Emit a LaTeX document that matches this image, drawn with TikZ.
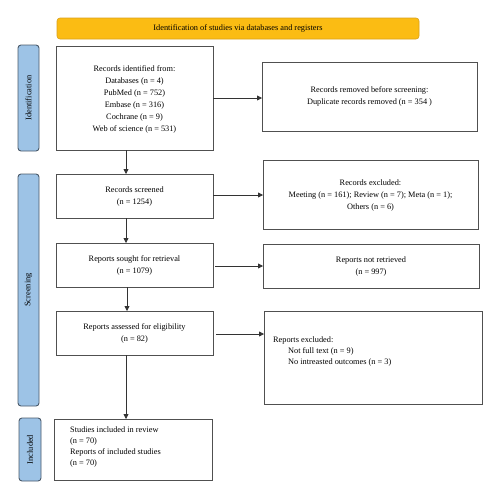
\documentclass[tikz,border=0pt]{standalone}
\usepackage{fontspec}
\setmainfont{Liberation Serif}
\usetikzlibrary{arrows.meta}
\definecolor{hdr}{HTML}{FBBC13}
\definecolor{hdrb}{HTML}{D9A01A}
\definecolor{side}{HTML}{9DC3E6}
\definecolor{sideb}{HTML}{4A5A6A}
\definecolor{boxb}{HTML}{505050}
\begin{document}
\begin{tikzpicture}[x=1pt,y=-1pt,
  box/.style={draw=boxb,line width=0.9pt,fill=white},
  sidebar/.style={draw=sideb,fill=side,line width=0.9pt,rounded corners=3pt},
  arr/.style={-{Triangle[length=5pt,width=5pt]},line width=0.8pt,draw=black!80},
  txt/.style={font=\fontsize{8.3}{12}\selectfont,align=center,inner sep=0pt},
  txtl/.style={font=\fontsize{8.3}{11}\selectfont,align=left,inner sep=0pt,anchor=north west},
  stxt/.style={font=\fontsize{8.4}{9}\selectfont,rotate=90,inner sep=0pt}]
\useasboundingbox (0,0) rectangle (500,499);
% header
\draw[fill=hdr,draw=hdrb,line width=0.6pt,rounded corners=3pt] (57,18) rectangle (419,39);
\node[txt] (hdr) at (238,28.5) {Identification of studies via databases and registers};
% sidebars
\draw[sidebar] (18,45) rectangle (39,151);
\node[stxt] (s1) at (28.5,98) {Identification};
\draw[sidebar] (18,174) rectangle (39,406);
\node[stxt] (s2) at (28.5,290) {Screening};
\draw[sidebar] (19,418) rectangle (41,481);
\node[stxt] (s3) at (30,449.5) {Included};
% boxes
\draw[box] (56,46) rectangle (213,150);
\node[txt] (b1) at (134.5,99) {Records identified from:\\Databases (n = 4)\\PubMed (n = 752)\\Embase (n = 316)\\Cochrane (n = 9)\\Web of science (n = 531)};
\coordinate (b1r) at (213,98);
\coordinate (b1b) at (126,150);
\draw[box] (262,62) rectangle (477,131);
\node[txt] (r1) at (369.5,96) {Records removed before screening:\\Duplicate records removed (n = 354 )};
\coordinate (r1l) at (262,98);

\draw[box] (56,174) rectangle (213,218);
\node[txt] (b2) at (134.5,196) {Records screened\\(n = 1254)};
\coordinate (b2t) at (126,174);
\coordinate (b2r) at (213,195);
\coordinate (b2b) at (126,218);
\draw[box] (263,160) rectangle (478,229);
\node[txt] (r2) at (370.5,195) {Records excluded:\\Meeting (n = 161); Review (n = 7); Meta (n = 1);\\Others (n = 6)};
\coordinate (r2l) at (263,195);

\draw[box] (56,243) rectangle (213,287);
\node[txt] (b3) at (134.5,265) {Reports sought for retrieval\\(n = 1079)};
\coordinate (b3t) at (126,243);
\coordinate (b3r) at (215,266);
\coordinate (b3b) at (127,287);
\draw[box] (263,244) rectangle (479,288);
\node[txt] (r3) at (371,266) {Reports not retrieved\\(n = 997)};
\coordinate (r3l) at (263,266);

\draw[box] (56,311) rectangle (213,355);
\node[txt] (b4) at (134.5,333) {Reports assessed for eligibility\\(n = 82)};
\coordinate (b4t) at (127,311);
\coordinate (b4r) at (216,334);
\coordinate (b4b) at (126,355);
\draw[box] (264,311) rectangle (482,404);
\node[txtl] (r4) at (273,337) {Reports excluded:\\\hspace*{15pt}Not full text (n = 9)\\\hspace*{15pt}No intreasted outcomes (n = 3)};
\coordinate (r4l) at (264,334);

\draw[box] (54,419) rectangle (212,480);
\node[txtl] (b5) at (70,427) {Studies included in review\\(n = 70)\\Reports of included studies\\(n = 70)};
\coordinate (b5t) at (126,419);

% arrows
\draw[arr] (b1r) -- (r1l);
\draw[arr] (b1b) -- (b2t);
\draw[arr] (b2r) -- (r2l);
\draw[arr] (b2b) -- (b3t);
\draw[arr] (b3r) -- (r3l);
\draw[arr] (b3b) -- (b4t);
\draw[arr] (b4r) -- (r4l);
\draw[arr] (b4b) -- (b5t);
\end{tikzpicture}
\end{document}
